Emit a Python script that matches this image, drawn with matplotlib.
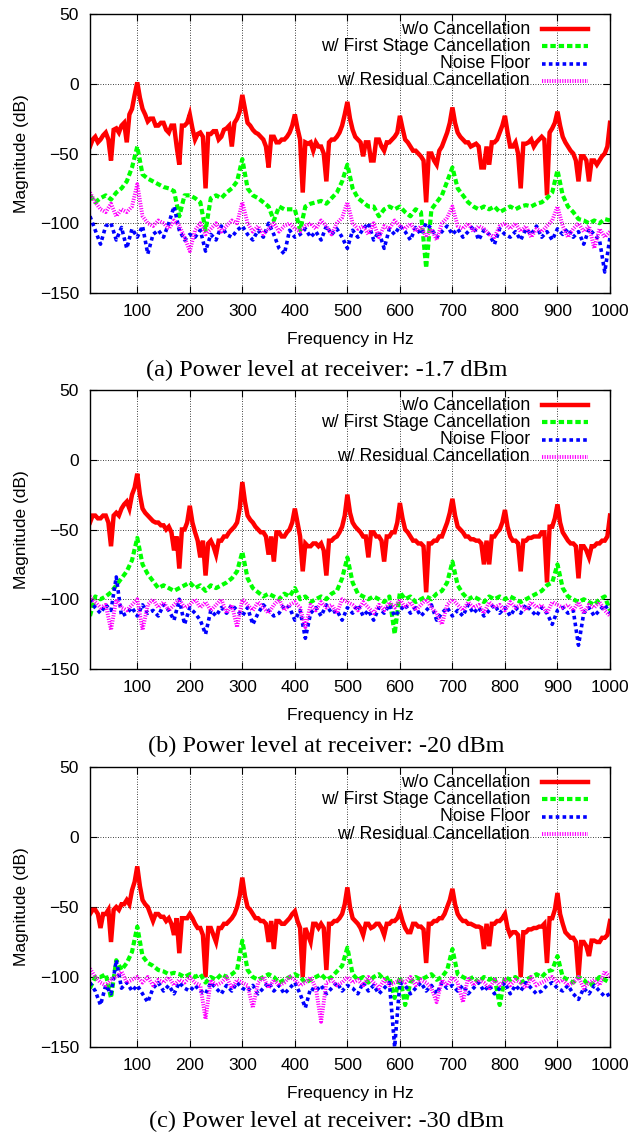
import matplotlib
matplotlib.use("Agg")
import matplotlib.pyplot as plt
from matplotlib.lines import Line2D

plt.rcParams["font.family"] = ["Liberation Sans", "DejaVu Sans"]

# Frequency axes (Hz): the red curve is read every 5 Hz, the others every 10 Hz
freq_fine = list(range(10, 1001, 5))
freq = list(range(10, 1001, 10))

# ---- (a) -1.7 dBm ----
red_a = [-45, -40, -38, -42, -40, -37, -35, -40, -55, -33, -32, -35, -30, -28, -42, -22, -18, -8, 1,
         -10, -18, -22, -27, -25, -25, -30, -30, -28, -28, -33, -35, -30, -30, -45, -58, -30, -30, -28, -22,
         -32, -40, -36, -35, -38, -75, -36, -36, -34, -34, -40, -38, -33, -32, -30, -45, -28, -25, -20, -8,
         -18, -28, -30, -33, -35, -36, -38, -40, -45, -60, -38, -38, -42, -42, -40, -40, -38, -35, -30, -22,
         -32, -40, -78, -42, -43, -42, -48, -42, -45, -45, -50, -70, -42, -40, -40, -38, -35, -30, -22, -13,
         -25, -33, -38, -40, -42, -52, -42, -42, -55, -55, -40, -40, -45, -48, -42, -42, -40, -38, -35, -23,
         -32, -40, -42, -45, -48, -48, -50, -52, -55, -85, -50, -50, -55, -58, -48, -45, -40, -35, -28, -17,
         -28, -35, -38, -40, -42, -42, -45, -44, -43, -45, -60, -60, -45, -58, -42, -42, -40, -35, -30, -23,
         -35, -45, -45, -42, -50, -75, -43, -43, -42, -40, -45, -42, -40, -38, -40, -80, -35, -32, -28, -20,
         -30, -38, -42, -45, -48, -50, -55, -70, -52, -52, -55, -70, -55, -55, -58, -55, -52, -50, -45, -28]
green_a = [-80, -85, -82, -80, -83, -78, -75, -70, -60, -45,
           -65, -68, -70, -72, -74, -75, -77, -95, -80, -80,
           -82, -85, -105, -82, -80, -82, -78, -75, -70, -54,
           -75, -80, -82, -85, -88, -98, -88, -90, -90, -90,
           -105, -88, -86, -85, -84, -86, -82, -78, -70, -58,
           -75, -82, -85, -88, -88, -95, -90, -88, -90, -88,
           -92, -95, -90, -92, -132, -90, -85, -80, -70, -60,
           -75, -80, -85, -88, -90, -88, -90, -88, -92, -90,
           -88, -90, -88, -87, -88, -86, -85, -82, -78, -62,
           -80, -88, -92, -97, -98, -100, -98, -100, -97, -98]
blue_a = [-95, -105, -115, -102, -100, -112, -103, -118, -104, -110,
          -102, -122, -108, -105, -110, -100, -88, -105, -112, -108,
          -110, -105, -120, -108, -112, -102, -108, -110, -105, -102,
          -108, -112, -105, -110, -100, -108, -118, -122, -105, -110,
          -108, -104, -110, -106, -112, -102, -108, -104, -110, -118,
          -105, -110, -104, -100, -112, -106, -118, -104, -108, -102,
          -106, -112, -103, -108, -100, -104, -110, -106, -102, -108,
          -104, -110, -106, -102, -112, -105, -108, -115, -104, -108,
          -110, -106, -112, -104, -108, -102, -110, -106, -112, -104,
          -108, -104, -110, -106, -115, -104, -108, -112, -135, -110]
magenta_a = [-78, -85, -90, -92, -86, -95, -90, -92, -88, -72,
             -95, -100, -102, -98, -100, -104, -98, -102, -110, -120,
             -105, -100, -108, -104, -100, -106, -102, -98, -100, -85,
             -100, -106, -102, -108, -104, -100, -106, -102, -100, -104,
             -106, -102, -100, -104, -98, -102, -108, -100, -96, -85,
             -100, -104, -102, -108, -100, -110, -102, -104, -98, -102,
             -104, -100, -106, -102, -110, -104, -112, -100, -96, -88,
             -102, -104, -100, -106, -102, -104, -108, -110, -102, -100,
             -104, -100, -106, -102, -110, -104, -106, -102, -98, -88,
             -102, -110, -104, -100, -106, -102, -118, -104, -110, -106]

# ---- (b) -20 dBm ----
red_b = [-45, -40, -40, -42, -42, -40, -40, -45, -62, -40, -38, -40, -35, -32, -30, -35, -25, -20, -10,
         -25, -35, -38, -40, -42, -44, -45, -45, -47, -47, -50, -48, -52, -65, -55, -78, -50, -50, -45, -33,
         -45, -52, -58, -70, -58, -83, -60, -58, -62, -68, -58, -58, -55, -55, -52, -50, -48, -45, -35, -16,
         -30, -40, -43, -45, -48, -50, -52, -52, -55, -68, -55, -73, -52, -52, -55, -55, -52, -50, -45, -35,
         -45, -55, -80, -60, -62, -62, -60, -60, -62, -60, -65, -83, -58, -58, -56, -55, -52, -48, -40, -25,
         -38, -45, -48, -50, -52, -55, -55, -70, -52, -52, -55, -55, -58, -73, -55, -55, -52, -52, -45, -31,
         -42, -50, -52, -55, -58, -58, -60, -60, -62, -95, -60, -60, -58, -58, -55, -55, -50, -45, -38, -28,
         -40, -48, -50, -52, -55, -55, -57, -57, -58, -58, -60, -75, -58, -75, -55, -55, -52, -50, -45, -36,
         -48, -55, -58, -58, -60, -80, -58, -58, -56, -56, -55, -55, -55, -52, -52, -88, -48, -48, -42, -32,
         -45, -52, -55, -58, -60, -60, -62, -85, -62, -62, -65, -70, -62, -62, -60, -60, -58, -58, -55, -40]
green_b = [-112, -98, -100, -98, -95, -90, -85, -80, -72, -56,
           -75, -82, -87, -92, -90, -92, -94, -92, -90, -88,
           -92, -90, -94, -90, -92, -90, -88, -85, -80, -66,
           -85, -92, -95, -98, -96, -98, -100, -96, -98, -92,
           -100, -98, -102, -100, -98, -100, -96, -94, -85, -70,
           -88, -96, -98, -100, -98, -100, -102, -98, -125, -95,
           -100, -98, -102, -100, -98, -100, -96, -94, -88, -73,
           -90, -96, -100, -98, -100, -102, -98, -100, -98, -100,
           -98, -100, -102, -100, -98, -96, -94, -90, -88, -75,
           -92, -98, -100, -102, -100, -102, -104, -100, -98, -108]
blue_b = [-100, -106, -110, -104, -108, -84, -112, -110, -106, -112,
          -104, -110, -108, -112, -104, -108, -115, -100, -118, -106,
          -110, -115, -125, -108, -112, -106, -110, -104, -108, -112,
          -106, -118, -110, -104, -108, -112, -110, -104, -106, -115,
          -108, -128, -110, -106, -112, -104, -110, -108, -115, -106,
          -110, -104, -112, -108, -115, -106, -110, -104, -112, -108,
          -104, -110, -106, -112, -108, -104, -115, -110, -106, -112,
          -108, -112, -104, -110, -106, -112, -108, -104, -110, -106,
          -112, -106, -110, -104, -108, -112, -106, -110, -118, -108,
          -106, -110, -108, -133, -110, -106, -112, -108, -104, -110]
magenta_b = [-98, -102, -106, -104, -122, -100, -106, -108, -104, -100,
             -122, -104, -100, -106, -102, -108, -104, -100, -106, -104,
             -100, -106, -102, -108, -104, -100, -110, -104, -120, -100,
             -104, -108, -102, -106, -110, -104, -100, -108, -104, -102,
             -106, -120, -104, -108, -102, -106, -104, -110, -100, -102,
             -104, -108, -102, -106, -110, -104, -108, -102, -106, -100,
             -106, -102, -108, -104, -100, -106, -110, -118, -104, -100,
             -104, -108, -102, -106, -104, -110, -102, -106, -104, -108,
             -102, -106, -104, -108, -102, -106, -104, -110, -102, -104,
             -106, -104, -108, -102, -110, -104, -106, -102, -108, -112]

# ---- (c) -30 dBm ----
red_c = [-55, -52, -52, -55, -65, -55, -55, -52, -75, -52, -50, -52, -48, -48, -45, -48, -38, -32, -21,
         -35, -45, -48, -50, -55, -60, -55, -55, -57, -57, -60, -58, -62, -70, -58, -83, -58, -58, -58, -55,
         -58, -62, -65, -65, -70, -100, -65, -65, -70, -75, -65, -65, -62, -62, -60, -58, -55, -50, -42, -29,
         -42, -50, -52, -55, -58, -58, -60, -60, -62, -75, -60, -80, -60, -60, -62, -62, -60, -58, -55, -53,
         -60, -65, -100, -65, -70, -75, -62, -62, -65, -62, -65, -95, -62, -62, -60, -60, -58, -55, -48, -36,
         -50, -58, -60, -62, -65, -70, -62, -62, -65, -64, -62, -62, -65, -70, -62, -62, -60, -60, -58, -53,
         -60, -65, -68, -68, -62, -62, -64, -64, -66, -90, -62, -62, -60, -60, -58, -58, -55, -50, -45, -37,
         -48, -55, -58, -60, -60, -62, -62, -63, -64, -64, -65, -80, -62, -78, -62, -62, -60, -60, -58, -55,
         -65, -70, -68, -68, -70, -100, -68, -68, -66, -66, -65, -65, -64, -64, -62, -90, -58, -58, -52, -40,
         -55, -62, -68, -70, -72, -72, -75, -100, -75, -75, -78, -85, -74, -74, -75, -75, -72, -72, -70, -60]
green_c = [-108, -100, -100, -98, -115, -88, -95, -90, -82, -64,
           -85, -90, -92, -95, -96, -98, -97, -98, -100, -98,
           -100, -98, -104, -100, -102, -98, -100, -98, -95, -74,
           -95, -100, -102, -100, -98, -100, -104, -102, -100, -98,
           -100, -104, -102, -100, -98, -102, -100, -96, -92, -79,
           -98, -102, -100, -104, -100, -98, -102, -100, -115, -100,
           -120, -104, -100, -102, -100, -98, -102, -100, -95, -80,
           -98, -100, -102, -100, -104, -100, -102, -100, -120, -100,
           -102, -100, -104, -102, -100, -98, -100, -96, -95, -85,
           -100, -102, -104, -100, -102, -106, -104, -100, -102, -104]
blue_c = [-104, -110, -120, -106, -112, -88, -108, -104, -110, -106,
          -112, -118, -108, -104, -110, -106, -112, -104, -108, -110,
          -106, -110, -112, -104, -108, -112, -106, -110, -104, -108,
          -110, -106, -112, -108, -104, -110, -106, -112, -108, -104,
          -112, -122, -108, -110, -106, -112, -108, -104, -110, -106,
          -108, -112, -104, -110, -106, -112, -108, -104, -150, -104,
          -106, -112, -108, -104, -110, -106, -112, -104, -108, -106,
          -110, -106, -112, -108, -104, -110, -106, -112, -108, -104,
          -112, -106, -110, -104, -108, -112, -110, -106, -104, -108,
          -110, -106, -112, -116, -108, -112, -106, -110, -114, -112]
magenta_c = [-94, -100, -104, -106, -102, -100, -96, -104, -102, -100,
             -104, -100, -106, -102, -104, -100, -106, -102, -104, -100,
             -104, -106, -130, -102, -106, -104, -100, -108, -102, -104,
             -106, -122, -104, -100, -108, -102, -106, -104, -100, -102,
             -106, -104, -100, -108, -132, -104, -102, -106, -104, -100,
             -104, -102, -106, -100, -104, -108, -102, -106, -104, -102,
             -104, -100, -106, -102, -104, -108, -118, -102, -106, -100,
             -104, -118, -100, -106, -102, -104, -108, -102, -106, -102,
             -106, -102, -104, -108, -100, -106, -104, -102, -100, -104,
             -102, -106, -104, -100, -108, -104, -102, -106, -96, -100]

labels = ["w/o Cancellation", "w/ First Stage Cancellation",
          "Noise Floor", "w/ Residual Cancellation"]
captions = ["(a) Power level at receiver: -1.7 dBm",
            "(b) Power level at receiver: -20 dBm",
            "(c) Power level at receiver: -30 dBm"]

panels = [(red_a, green_a, blue_a, magenta_a),
          (red_b, green_b, blue_b, magenta_b),
          (red_c, green_c, blue_c, magenta_c)]

styles = [dict(color="#ff0000", lw=3.2, linestyle="-"),
          dict(color="#00ff00", lw=3.0, linestyle=(0, (1.3, 0.7))),
          dict(color="#0000ff", lw=2.6, linestyle=(0, (1.0, 0.9))),
          dict(color="#ff00ff", lw=2.8, linestyle=(0, (0.3, 0.35)))]

fig = plt.figure(figsize=(6.34, 11.36), dpi=100)
W, H = 634, 1136
tops = [14, 390, 767]
bottoms = [293, 669, 1047]
cap_y = [370, 746, 1121]

for i, series in enumerate(panels):
    ax = fig.add_axes([90 / W, 1 - bottoms[i] / H, 520 / W,
                       (bottoms[i] - tops[i]) / H])
    xs = [freq_fine, freq, freq, freq]
    for x, s, st in zip(xs, series, styles):
        ax.plot(x, s, solid_joinstyle="miter", **st)
    ax.set_xlim(10, 1000)
    ax.set_ylim(-150, 50)
    ax.set_xticks(range(100, 1001, 100))
    ax.set_yticks(range(-150, 51, 50))
    ax.tick_params(direction="in", top=True, right=True, length=5,
                   labelsize=12.5, pad=8)
    ax.grid(True, color="black", linestyle=(0, (1, 2)), linewidth=0.6)
    for sp in ax.spines.values():
        sp.set_linewidth(1.0)
    ax.set_xlabel("Frequency in Hz", fontsize=12.5, labelpad=9)
    ax.set_ylabel("Magnitude (dB)", fontsize=12.5, labelpad=8)

    # gnuplot style key: right aligned text, sample on the right
    rows = [0.946, 0.885, 0.822, 0.760]
    for lab, st, yy in zip(labels, styles, rows):
        ax.text(0.846, yy, lab, transform=ax.transAxes, ha="right",
                va="center", fontsize=12.7)
        ax.add_line(Line2D([0.869, 0.958], [yy, yy], transform=ax.transAxes,
                           **st))

    fig.text(0.515, 1 - cap_y[i] / H, captions[i], ha="center", va="center",
             fontsize=17.5, family=["Liberation Serif", "DejaVu Serif"])

fig.savefig("out.png", dpi=100)
